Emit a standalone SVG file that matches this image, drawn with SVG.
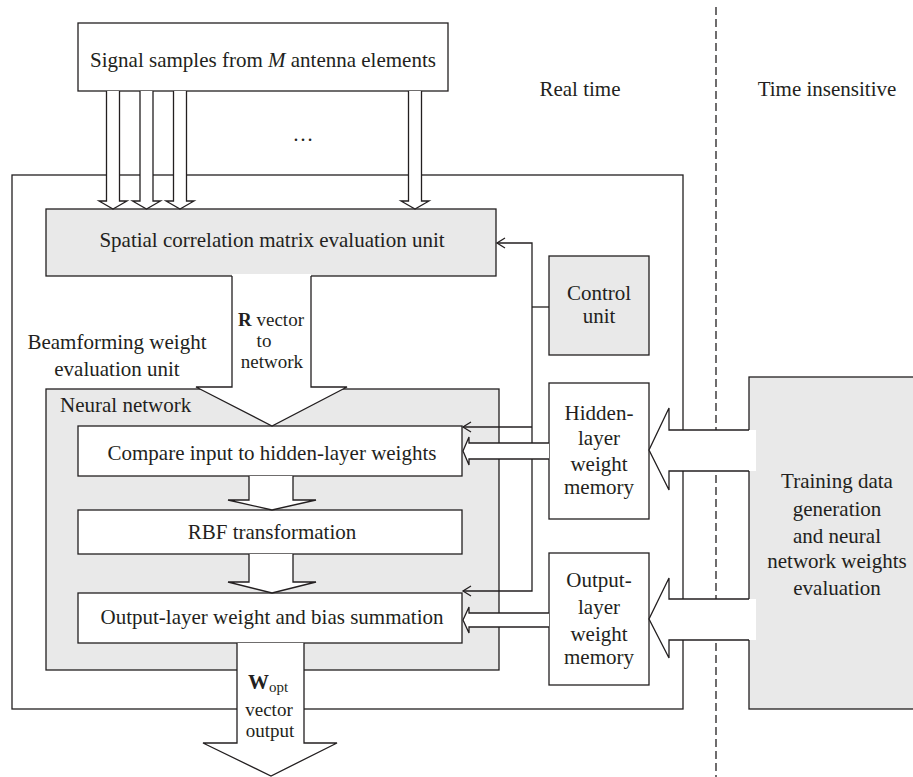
<svg xmlns="http://www.w3.org/2000/svg" width="913" height="777" viewBox="0 0 913 777">
<style>
.ln{fill:none;stroke:#231f20;stroke-width:1.3}
.wb{fill:#fff;stroke:#231f20;stroke-width:1.3}
.gb{fill:#e9e9e9;stroke:#231f20;stroke-width:1.3}
.wf{fill:#fff;stroke:none}
text{font-family:"Liberation Serif","Times New Roman",serif;font-size:21px;fill:#231f20}
.c{text-anchor:middle}
.s{font-size:19px}
</style>
<rect width="913" height="777" fill="#fff"/>
<g id="beamforming-unit">
<rect x="12" y="175" width="671" height="534" class="ln"/>
<text x="117" y="349" class="c">Beamforming weight</text>
<text x="117" y="376" class="c">evaluation unit</text>
</g>
<g id="training">
<rect x="749" y="377" width="180" height="332" class="gb"/>
<text x="837" y="488" class="c">Training data</text>
<text x="837" y="516" class="c">generation</text>
<text x="837" y="543" class="c">and neural</text>
<text x="837" y="568" class="c">network weights</text>
<text x="837" y="595" class="c">evaluation</text>
</g>
<g id="divider">
<line x1="716" y1="7" x2="716" y2="777" class="ln" stroke-dasharray="8,4"/>
<text x="580" y="96" class="c">Real time</text>
<text x="827" y="96" class="c">Time insensitive</text>
</g>
<g id="signal">
<rect x="78" y="23" width="370" height="68" class="wb"/>
<text x="263" y="67" class="c">Signal samples from <tspan font-style="italic">M</tspan> antenna elements</text>
<text x="303" y="141" class="c">…</text>
</g>
<g id="spatial">
<rect x="46" y="209" width="450" height="67" class="gb"/>
<text x="272" y="247" class="c">Spatial correlation matrix evaluation unit</text>
</g>
<g id="neural-network">
<rect x="46" y="389" width="453" height="281" class="gb"/>
<text x="60" y="412">Neural network</text>
</g>
<g id="compare">
<rect x="78" y="426" width="384" height="50" class="wb"/>
<text x="272" y="460" class="c">Compare input to hidden-layer weights</text>
</g>
<g id="rbf">
<rect x="78" y="510" width="384" height="44" class="wb"/>
<text x="272" y="539" class="c">RBF transformation</text>
</g>
<g id="output-sum">
<rect x="78" y="593" width="384" height="50" class="wb"/>
<text x="272" y="624" class="c">Output-layer weight and bias summation</text>
</g>
<g id="control">
<rect x="549" y="256" width="100" height="99" class="gb"/>
<text x="599" y="300" class="c">Control</text>
<text x="599" y="323" class="c">unit</text>
</g>
<g id="hidden-memory">
<rect x="549" y="383" width="100" height="136" class="wb"/>
<text x="599" y="420" class="c">Hidden-</text>
<text x="599" y="445" class="c">layer</text>
<text x="599" y="471" class="c">weight</text>
<text x="599" y="494" class="c">memory</text>
</g>
<g id="output-memory">
<rect x="549" y="553" width="100" height="132" class="wb"/>
<text x="599" y="587" class="c">Output-</text>
<text x="599" y="614" class="c">layer</text>
<text x="599" y="641" class="c">weight</text>
<text x="599" y="664" class="c">memory</text>
</g>
<g id="connectors">
<polyline points="497,243 532,243 532,591 463,591" class="ln"/>
<line x1="532" y1="427" x2="463" y2="427" class="ln"/>
<line x1="532" y1="307" x2="549" y2="307" class="ln" stroke-width="2.2"/>
<path d="M505,238 L497,243 L505,248" class="ln"/>
<path d="M471,422 L463,427 L471,432" class="ln"/>
<path d="M471,586 L463,591 L471,596" class="ln"/>
<g id="input-arrows">
<polygon points="106.5,91 106.5,201 99,201 113,209 127,201 119.5,201 119.5,91" class="wf"/>
<polyline points="106.5,91 106.5,201 99,201 113,209 127,201 119.5,201 119.5,91" class="ln"/>
<polygon points="140,91 140,201 132.5,201 146.5,209 160.5,201 153,201 153,91" class="wf"/>
<polyline points="140,91 140,201 132.5,201 146.5,209 160.5,201 153,201 153,91" class="ln"/>
<polygon points="173.5,91 173.5,201 166,201 180,209 194,201 186.5,201 186.5,91" class="wf"/>
<polyline points="173.5,91 173.5,201 166,201 180,209 194,201 186.5,201 186.5,91" class="ln"/>
<polygon points="408.5,91 408.5,201 401,201 415,209 429,201 421.5,201 421.5,91" class="wf"/>
<polyline points="408.5,91 408.5,201 401,201 415,209 429,201 421.5,201 421.5,91" class="ln"/>
</g>
<g id="r-arrow">
<polygon points="232,274 232,387 196,387 272,426 347,387 311,387 311,274" class="wf"/>
<polyline points="232,276 232,387 196,387 272,426 347,387 311,387 311,276" class="ln"/>
<text x="271" y="326" class="c s"><tspan font-weight="bold">R</tspan> vector</text>
<text x="264" y="347" class="c s">to</text>
<text x="272" y="368" class="c s">network</text>
</g>
<polygon points="249,476 249,500 228,500 272,510 316,500 293,500 293,476" class="wf"/>
<polyline points="249,476 249,500 228,500 272,510 316,500 293,500 293,476" class="ln"/>
<polygon points="249,554 249,582 228,582 272,593 316,582 293,582 293,554" class="wf"/>
<polyline points="249,554 249,582 228,582 272,593 316,582 293,582 293,554" class="ln"/>
<g id="w-arrow">
<polygon points="237,643 237,743 203,743 271,776 337,743 304,743 304,643" class="wf"/>
<polyline points="237,643 237,743 203,743 271,776 337,743 304,743 304,643" class="ln"/>
<text x="268" y="689" class="c"><tspan font-weight="bold">W</tspan><tspan font-size="15" dy="3">opt</tspan></text>
<text x="269" y="716" class="c s">vector</text>
<text x="270" y="737" class="c s">output</text>
</g>
<polygon points="549,443 469,443 469,437 463,451 469,465 469,459 549,459" class="wf"/>
<polyline points="549,443 469,443 469,437 463,451 469,465 469,459 549,459" class="ln"/>
<polygon points="549,613 469,613 469,607 463,620 469,633 469,627 549,627" class="wf"/>
<polyline points="549,613 469,613 469,607 463,620 469,633 469,627 549,627" class="ln"/>
<polygon points="756,430 669,430 669,408 649,450 669,490 669,471 756,471" class="wf"/>
<polyline points="749,430 669,430 669,408 649,450 669,490 669,471 749,471" class="ln"/>
<polygon points="756,599 669,599 669,578 649,619 669,658 669,640 756,640" class="wf"/>
<polyline points="749,599 669,599 669,578 649,619 669,658 669,640 749,640" class="ln"/>
</g>
</svg>
